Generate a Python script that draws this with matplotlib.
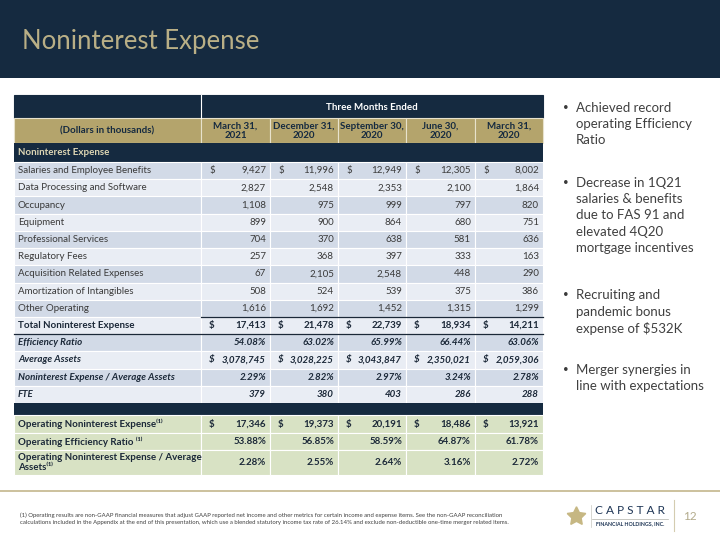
import matplotlib

matplotlib.use("Agg")
import matplotlib.pyplot as plt
from matplotlib.patches import Rectangle

plt.rcParams["font.family"] = ["Lato", "DejaVu Sans"]

NAVY = "#152a40"
GOLD = "#b4a46c"
ROW_DARK = "#d2dae7"
ROW_LIGHT = "#e9edf4"
GREEN = "#d8e2c4"
TXT = "#3a3a3a"

# ---- data -------------------------------------------------------------------
periods = ["March 31,\n2021", "December 31,\n2020", "September 30,\n2020", "June 30,\n2020", "March 31,\n2020"]

expense_labels = ["Salaries and Employee Benefits", "Data Processing and Software", "Occupancy",
                  "Equipment", "Professional Services", "Regulatory Fees",
                  "Acquisition Related Expenses", "Amortization of Intangibles", "Other Operating"]
salaries = [9427, 11996, 12949, 12305, 8002]
data_proc = [2827, 2548, 2353, 2100, 1864]
occupancy = [1108, 975, 999, 797, 820]
equipment = [899, 900, 864, 680, 751]
professional = [704, 370, 638, 581, 636]
regulatory = [257, 368, 397, 333, 163]
acquisition = [67, 2105, 2548, 448, 290]
amortization = [508, 524, 539, 375, 386]
other_operating = [1616, 1692, 1452, 1315, 1299]
total_expense = [17413, 21478, 22739, 18934, 14211]
efficiency_ratio = [54.08, 63.02, 65.99, 66.44, 63.06]
average_assets = [3078745, 3028225, 3043847, 2350021, 2059306]
expense_to_assets = [2.29, 2.82, 2.97, 3.24, 2.78]
fte = [379, 380, 403, 286, 288]
op_expense = [17346, 19373, 20191, 18486, 13921]
op_efficiency = [53.88, 56.85, 58.59, 64.87, 61.78]
op_expense_to_assets = [2.28, 2.55, 2.64, 3.16, 2.72]

bullets = [
    "Achieved record\noperating Efficiency\nRatio",
    "Decrease in 1Q21\nsalaries & benefits\ndue to FAS 91 and\nelevated 4Q20\nmortgage incentives",
    "Recruiting and\npandemic bonus\nexpense of $532K",
    "Merger synergies in\nline with expectations",
]
footnote = ("(1) Operating results are non-GAAP financial measures that adjust GAAP reported net income and other "
            "metrics for certain income and expense items. See the non-GAAP reconciliation\ncalculations included in "
            "the Appendix at the end of this presentation, which use a blended statutory income tax rate of 26.14% "
            "and exclude non-deductible one-time merger related items.")

# ---- layout -----------------------------------------------------------------
fig = plt.figure(figsize=(7.2, 5.4), dpi=100)
ax = fig.add_axes([0, 0, 1, 1])
ax.set_xlim(0, 720)
ax.set_ylim(540, 0)
ax.axis("off")

ax.add_patch(Rectangle((0, 0), 720, 78, color=NAVY, lw=0))
ax.text(22, 41, "Noninterest Expense", color="#b9af86", fontsize=18.5, va="center", ha="left")

x_edges = [14, 201, 270, 338, 406, 475, 543]
x0, x1 = x_edges[0], x_edges[-1]


def cell(xa, xb, ya, yb, color, edge="white"):
    ax.add_patch(Rectangle((xa, ya), xb - xa, yb - ya, facecolor=color, edgecolor=edge, lw=0.8))


# header rows
cell(x0, x_edges[1], 95, 118, NAVY, NAVY)
cell(x_edges[1], x1, 95, 118, NAVY, NAVY)
ax.plot([x_edges[1], x_edges[1]], [95, 118], color="white", lw=0.8)
ax.text((x_edges[1] + x1) / 2, 107, "Three Months Ended", color="white", fontsize=7, fontweight="bold",
        ha="center", va="center")
for i in range(6):
    cell(x_edges[i], x_edges[i + 1], 118, 143, GOLD, "#e8e2cc")
ax.text((x0 + x_edges[1]) / 2, 131, "(Dollars in thousands)", color=NAVY, fontsize=7, fontweight="bold",
        ha="center", va="center")
for i, p in enumerate(periods):
    ax.text((x_edges[i + 1] + x_edges[i + 2]) / 2, 131, p, color=NAVY, fontsize=7, fontweight="bold",
            ha="center", va="center", linespacing=1.05)
ax.add_patch(Rectangle((x0, 143), x1 - x0, 19, color=NAVY, lw=0))
ax.text(18, 152.5, "Noninterest Expense", color="#ddd6b4", fontsize=7, fontweight="bold", va="center")


def fmt_num(v):
    return f"{v:,}"


def fmt_pct(v):
    return f"{v:.2f}%"


rows = []
expense_series = [salaries, data_proc, occupancy, equipment, professional, regulatory,
                  acquisition, amortization, other_operating]
for k, (lab, vals) in enumerate(zip(expense_labels, expense_series)):
    rows.append((lab, [fmt_num(v) for v in vals], k == 0, "normal", "normal"))
rows.append(("Total Noninterest Expense", [fmt_num(v) for v in total_expense], True, "bold", "normal"))
rows.append(("Efficiency Ratio", [fmt_pct(v) for v in efficiency_ratio], False, "bold", "italic"))
rows.append(("Average Assets", [fmt_num(v) for v in average_assets], True, "bold", "italic"))
rows.append(("Noninterest Expense / Average Assets", [fmt_pct(v) for v in expense_to_assets], False, "bold", "italic"))
rows.append(("FTE", [fmt_num(v) for v in fte], False, "bold", "italic"))

y = 162.0
rh = (403 - 162) / len(rows)
for r, (lab, vals, dollar, weight, style) in enumerate(rows):
    color = ROW_DARK if r % 2 == 0 else ROW_LIGHT
    for i in range(6):
        cell(x_edges[i], x_edges[i + 1], y, y + rh, color)
    yc = y + rh / 2
    tcol = TXT if weight == "normal" else "#1b2838"
    ax.text(18, yc, lab, color=tcol, fontsize=7, fontweight=weight, fontstyle=style, va="center")
    for i, v in enumerate(vals):
        xa, xb = x_edges[i + 1], x_edges[i + 2]
        ax.text(xb - 4, yc, v, color=tcol, fontsize=7, fontweight=weight, fontstyle=style,
                ha="right", va="center")
        if dollar:
            ax.text(xa + 8, yc, "$", color=tcol, fontsize=7, fontweight=weight, fontstyle=style,
                    ha="left", va="center")
    if lab.startswith("Total"):
        ax.plot([x_edges[1], x1], [y, y], color="#1b2838", lw=0.9)
        ax.plot([x0, x1], [y + rh, y + rh], color="#1b2838", lw=0.9)
    y += rh

# spacer
ax.add_patch(Rectangle((x0, 403), x1 - x0, 12, color=NAVY, lw=0))

green_rows = [
    ("Operating Noninterest Expense\u207d\u00b9\u207e", [fmt_num(v) for v in op_expense], True, 18),
    ("Operating Efficiency Ratio \u207d\u00b9\u207e", [fmt_pct(v) for v in op_efficiency], False, 17),
    ("Operating Noninterest Expense / Average\nAssets\u207d\u00b9\u207e", [fmt_pct(v) for v in op_expense_to_assets],
     False, 25),
]
y = 415.0
for lab, vals, dollar, h in green_rows:
    for i in range(6):
        cell(x_edges[i], x_edges[i + 1], y, y + h, GREEN)
    yc = y + h / 2
    ax.text(18, yc, lab, color="#1b2838", fontsize=7, fontweight="bold", va="center", linespacing=1.0)
    for i, v in enumerate(vals):
        xa, xb = x_edges[i + 1], x_edges[i + 2]
        ax.text(xb - 4, yc, v, color="#1b2838", fontsize=7, fontweight="bold", ha="right", va="center")
        if dollar:
            ax.text(xa + 8, yc, "$", color="#1b2838", fontsize=7, fontweight="bold", ha="left", va="center")
    y += h

# bullets
by = 102
for b in bullets:
    n = b.count("\n") + 1
    ax.text(563, by + 1, "\u2022", color=TXT, fontsize=7, va="top", ha="left")
    ax.text(576, by, b, color="#404040", fontsize=9.5, va="top", ha="left", linespacing=1.42)
    by += n * 18.8 + 18.5

# footer
ax.plot([0, 720], [491, 491], color="#c4b68c", lw=1.2)
ax.text(20, 518.5, footnote, color="#404040", fontsize=4.35, va="center", ha="left", linespacing=1.5)
ax.plot([576], [516], marker=(5, 1, 0), markersize=14, color="#c6b783", mec="#c6b783")
ax.plot([591, 591], [505, 527], color="#c8c8c0", lw=0.5)
ax.text(630, 511, "C A P S T A R", color="#1f3656", fontsize=8.6, ha="center", va="center")
ax.plot([592, 668], [518.5, 518.5], color="#b0b0a8", lw=0.5)
ax.text(630, 524, "FINANCIAL HOLDINGS, INC.", color="#1f3656", fontsize=3.8, ha="center", va="center",
        fontweight="bold")
ax.plot([674, 674], [500, 531], color="#d4ccb0", lw=0.8)
ax.text(683, 516, "12", color="#b3ab8c", fontsize=8.5, ha="left", va="center")

fig.savefig("out.png", dpi=100)
